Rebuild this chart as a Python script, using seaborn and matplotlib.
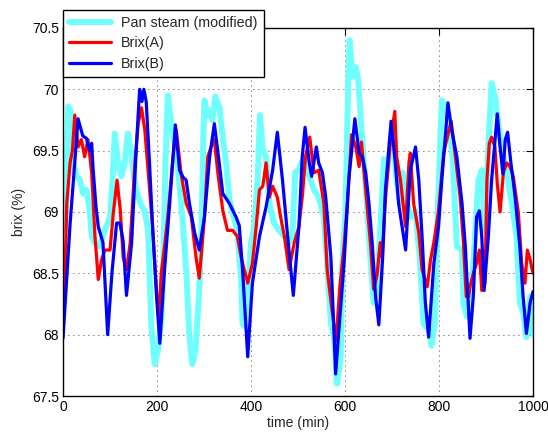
import matplotlib
matplotlib.use("Agg")
import matplotlib.pyplot as plt
import seaborn as sns
import pandas as pd

# ---- data ----
t_pan = [0, 5, 8, 11, 16, 22, 29, 36, 43, 50, 57, 61, 68, 78, 89, 100, 106, 110, 117, 124,
         131, 138, 146, 153, 160, 167, 174, 181, 188, 195, 202, 209, 213, 218, 223, 230, 241,
         248, 255, 262, 269, 275, 282, 289, 294, 299, 301, 308, 312, 318, 324, 333, 340, 347,
         354, 361, 371, 379, 382, 386, 393, 400, 407, 414, 419, 425, 432, 439, 449, 460, 471,
         481, 488, 494, 502, 513, 524, 534, 544, 555, 562, 570, 577, 583, 591, 594, 601, 607,
         610, 616, 623, 628, 633, 640, 647, 654, 661, 668, 675, 683, 690, 701, 710, 718, 723,
         729, 739, 750, 760, 767, 778, 784, 791, 796, 801, 806, 813, 820, 829, 838, 849, 852,
         859, 866, 873, 884, 891, 898, 905, 912, 919, 926, 933, 944, 955, 965, 972, 979, 986,
         994, 1000]
pan = [68.85, 68.9, 69.4, 69.86, 69.83, 69.40, 69.29, 69.26, 69.15, 69.18, 69.01, 68.80, 68.75,
       68.72, 68.85, 68.96, 69.3, 69.64, 69.40, 69.29, 69.40, 69.64, 69.45, 69.23, 69.12, 69.05,
       69.01, 68.85, 68.07, 67.76, 67.87, 68.12, 68.53, 69.40, 69.95, 69.72, 69.48, 69.21, 68.91,
       68.53, 67.98, 67.76, 67.87, 68.31, 68.72, 69.67, 69.91, 69.78, 69.83, 69.75, 69.94, 69.85,
       69.6, 69.4, 69.1, 68.99, 68.85, 68.44, 68.09, 68.07, 68.31, 68.75, 68.88, 69.26, 69.79,
       69.50, 69.45, 69.07, 68.91, 68.85, 68.80, 68.75, 68.80, 69.32, 69.35, 69.45, 69.29, 69.18,
       69.12, 68.96, 68.58, 68.09, 67.98, 67.60, 67.82, 68.58, 68.99, 70.08, 70.40, 70.10, 70.18,
       70.08, 69.80, 69.40, 69.04, 68.63, 68.26, 68.37, 68.85, 69.43, 69.34, 69.67, 69.26, 69.07,
       69.32, 69.12, 68.96, 69.01, 68.58, 68.09, 68.04, 67.91, 68.09, 68.85, 69.40, 69.91, 69.86,
       69.72, 69.45, 68.72, 68.69, 68.26, 68.15, 68.20, 68.58, 69.26, 69.34, 68.85, 69.53, 70.05,
       69.94, 69.72, 69.53, 69.32, 69.07, 68.80, 68.26, 68.18, 67.98, 68.31, 68.0]

t_a = [0, 3, 8, 15, 20, 25, 32, 39, 46, 53, 61, 68, 75, 82, 89, 100, 107, 115, 122, 128, 135,
       143, 153, 160, 167, 174, 181, 191, 199, 204, 209, 216, 223, 234, 241, 251, 262, 273, 283,
       290, 301, 308, 315, 322, 330, 340, 350, 361, 371, 379, 393, 403, 411, 418, 425, 432, 439,
       446, 456, 463, 471, 481, 492, 502, 509, 516, 525, 534, 544, 555, 562, 573, 581, 589, 598,
       607, 614, 623, 630, 635, 644, 654, 661, 668, 675, 679, 686, 697, 706, 710, 718, 729, 736,
       739, 746, 757, 764, 775, 782, 789, 799, 810, 819, 826, 835, 845, 852, 858, 863, 866, 873,
       880, 886, 891, 898, 902, 907, 912, 919, 924, 930, 937, 944, 951, 958, 969, 976, 983, 988,
       994, 1000]
brix_a = [68.35, 68.3, 69.07, 69.4, 69.5, 69.79, 69.53, 69.59, 69.45, 69.59, 69.32, 68.80, 68.45,
          68.61, 68.69, 68.69, 68.99, 69.26, 69.01, 68.63, 68.53, 68.75, 69.40, 69.72, 69.85,
          69.67, 69.34, 68.85, 68.36, 68.12, 68.50, 68.72, 68.96, 69.45, 69.67, 69.32, 69.07,
          68.96, 68.63, 68.46, 68.96, 69.45, 69.53, 69.59, 69.3, 69.01, 68.85, 68.85, 68.80,
          68.63, 68.42, 68.58, 68.88, 69.18, 69.21, 69.40, 69.12, 69.21, 69.12, 68.96, 68.80,
          68.53, 68.75, 68.88, 69.12, 69.45, 69.61, 69.32, 69.34, 69.07, 68.53, 68.18, 67.95,
          68.39, 68.72, 69.18, 69.63, 69.53, 69.37, 69.57, 69.18, 68.75, 68.37, 68.48, 68.75,
          68.63, 69.10, 69.59, 69.82, 69.45, 69.26, 68.88, 69.40, 69.48, 69.07, 68.83, 68.53,
          68.39, 68.61, 68.75, 69.01, 69.48, 69.63, 69.74, 69.45, 69.12, 68.75, 68.31, 68.31,
          68.39, 68.50, 68.58, 68.69, 68.36, 68.42, 69.26, 69.56, 69.61, 69.53, 69.23, 69.00,
          69.32, 69.40, 69.37, 69.29, 68.99, 68.58, 68.42, 68.69, 68.61, 68.5]

t_b = [0, 15, 32, 42, 50, 56, 61, 64, 70, 75, 85, 95, 104, 114, 121, 128, 135, 146, 156, 163,
       168, 172, 177, 184, 191, 199, 206, 216, 227, 239, 248, 256, 262, 269, 280, 290, 301, 312,
       322, 333, 340, 354, 368, 375, 382, 393, 403, 418, 432, 446, 456, 467, 478, 490, 502, 509,
       515, 524, 529, 539, 544, 552, 559, 570, 575, 580, 587, 598, 608, 621, 630, 637, 644, 651,
       658, 665, 672, 680, 686, 698, 707, 714, 729, 739, 750, 757, 764, 771, 778, 789, 799, 806,
       819, 827, 838, 849, 856, 866, 873, 880, 886, 891, 896, 905, 912, 924, 930, 936, 941, 946,
       953, 962, 972, 979, 986, 994, 1000]
brix_b = [67.97, 68.9, 69.76, 69.62, 69.6, 69.5, 69.56, 69.35, 69.05, 68.88, 68.75, 68.0, 68.5,
          68.91, 68.91, 68.76, 68.32, 68.75, 69.53, 70.0, 69.9, 70.0, 69.9, 69.4, 68.85, 68.31,
          67.93, 68.53, 69.07, 69.71, 69.34, 69.28, 69.26, 69.07, 68.83, 68.69, 68.96, 69.45,
          69.72, 69.38, 69.15, 69.07, 68.96, 68.89, 68.53, 67.82, 68.42, 68.80, 69.04, 69.34,
          69.65, 69.26, 68.80, 68.32, 68.88, 69.45, 69.69, 69.40, 69.29, 69.53, 69.40, 69.32,
          69.12, 68.63, 68.17, 67.68, 68.04, 68.58, 69.26, 69.76, 69.48, 69.45, 69.32, 69.07,
          68.74, 68.31, 68.08, 68.62, 69.18, 69.74, 69.40, 69.07, 68.69, 69.34, 69.53, 69.26,
          68.80, 68.26, 67.98, 68.58, 68.88, 69.26, 69.89, 69.67, 69.45, 69.07, 68.72, 67.97,
          68.31, 68.96, 69.01, 68.80, 68.36, 68.80, 69.26, 69.80, 69.53, 69.31, 69.59, 69.65,
          69.40, 69.12, 68.72, 68.31, 68.01, 68.26, 68.35]

series_labels = ["Pan steam (modified)", "Brix(A)", "Brix(B)"]
x_ticks = [0, 200, 400, 600, 800, 1000]
y_ticks = [67.5, 68, 68.5, 69, 69.5, 70, 70.5]
y_tick_labels = ["67.5", "68", "68.5", "69", "69.5", "70", "70.5"]

# ---- plot ----
sns.set_style("white")
plt.rcParams["font.family"] = ["Liberation Sans", "DejaVu Sans"]

fig = plt.figure(figsize=(5.48, 4.32), dpi=100)
ax = fig.add_axes([0.115, 0.0833, 0.8576, 0.852])

df_pan = pd.DataFrame({"t": t_pan, "v": pan})
df_a = pd.DataFrame({"t": t_a, "v": brix_a})
df_b = pd.DataFrame({"t": t_b, "v": brix_b})

sns.lineplot(data=df_pan, x="t", y="v", ax=ax, color="#70FFFF", linewidth=4.3,
             label=series_labels[0], sort=False)
sns.lineplot(data=df_a, x="t", y="v", ax=ax, color="#FF0000", linewidth=2.3,
             label=series_labels[1], sort=False)
sns.lineplot(data=df_b, x="t", y="v", ax=ax, color="#0000FF", linewidth=2.3,
             label=series_labels[2], sort=False)

ax.set_xlim(0, 1000)
ax.set_ylim(67.5, 70.5)
ax.set_xticks(x_ticks)
ax.set_xticklabels([str(v) for v in x_ticks])
ax.set_yticks(y_ticks)
ax.set_yticklabels(y_tick_labels)
ax.tick_params(direction="in", length=5, width=0.8, top=True, right=True,
               labelsize=10, colors="black", pad=3)
ax.grid(True, color="black", linestyle=(0, (1, 5)), linewidth=0.6)
for s in ax.spines.values():
    s.set_color("black")
    s.set_linewidth(1.0)
ax.set_xlabel("time (min)", fontsize=10, labelpad=1)
ax.set_ylabel("brix (%)", fontsize=10, labelpad=4)

leg = ax.legend(loc="upper left", bbox_to_anchor=(0.0, 1.049), borderaxespad=0,
                frameon=True, fancybox=False, fontsize=10.3, handlelength=2.9,
                handletextpad=0.75, borderpad=0.42, labelspacing=0.45)
leg.get_frame().set_edgecolor("black")
leg.get_frame().set_linewidth(1.0)
leg.get_frame().set_alpha(1)

fig.savefig("out.png", dpi=100)
